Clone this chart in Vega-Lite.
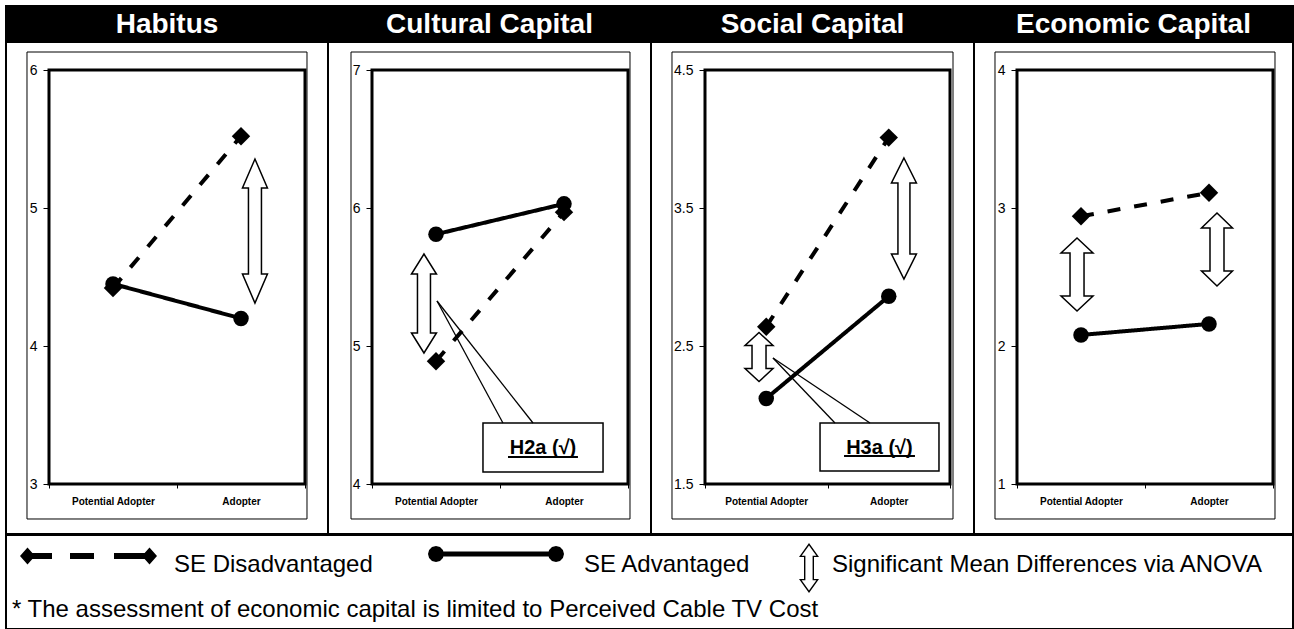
{
  "$schema": "https://vega.github.io/schema/vega-lite/v6.json",
  "padding": {"left": 5, "top": 5, "right": 0, "bottom": 0},
  "background": "white",
  "spacing": -2,
  "resolve": {"scale": {"x": "independent", "y": "independent", "shape": "independent", "strokeDash": "independent", "size": "independent"}, "legend": {"shape": "independent", "strokeDash": "independent", "size": "independent"}},
  "config": {
    "view": {"stroke": "black", "strokeWidth": 2},
    "axis": {"labelFont": "Liberation Sans", "labelColor": "black", "tickColor": "black", "domain": false, "grid": false},
    "text": {"font": "Liberation Sans"},
    "legend": {"labelFont": "Liberation Sans"}
  },
  "datasets": {
    "means": [
      {"panel": "Habitus", "stage": "Potential Adopter", "x": 0.5, "group": "SE Disadvantaged", "mean": 4.42},
      {"panel": "Habitus", "stage": "Adopter", "x": 1.5, "group": "SE Disadvantaged", "mean": 5.52},
      {"panel": "Habitus", "stage": "Potential Adopter", "x": 0.5, "group": "SE Advantaged", "mean": 4.45},
      {"panel": "Habitus", "stage": "Adopter", "x": 1.5, "group": "SE Advantaged", "mean": 4.2},
      {"panel": "Cultural Capital", "stage": "Potential Adopter", "x": 0.5, "group": "SE Disadvantaged", "mean": 4.89},
      {"panel": "Cultural Capital", "stage": "Adopter", "x": 1.5, "group": "SE Disadvantaged", "mean": 5.97},
      {"panel": "Cultural Capital", "stage": "Potential Adopter", "x": 0.5, "group": "SE Advantaged", "mean": 5.81},
      {"panel": "Cultural Capital", "stage": "Adopter", "x": 1.5, "group": "SE Advantaged", "mean": 6.03},
      {"panel": "Social Capital", "stage": "Potential Adopter", "x": 0.5, "group": "SE Disadvantaged", "mean": 2.64},
      {"panel": "Social Capital", "stage": "Adopter", "x": 1.5, "group": "SE Disadvantaged", "mean": 4.01},
      {"panel": "Social Capital", "stage": "Potential Adopter", "x": 0.5, "group": "SE Advantaged", "mean": 2.12},
      {"panel": "Social Capital", "stage": "Adopter", "x": 1.5, "group": "SE Advantaged", "mean": 2.86},
      {"panel": "Economic Capital", "stage": "Potential Adopter", "x": 0.5, "group": "SE Disadvantaged", "mean": 2.94},
      {"panel": "Economic Capital", "stage": "Adopter", "x": 1.5, "group": "SE Disadvantaged", "mean": 3.11},
      {"panel": "Economic Capital", "stage": "Potential Adopter", "x": 0.5, "group": "SE Advantaged", "mean": 2.08},
      {"panel": "Economic Capital", "stage": "Adopter", "x": 1.5, "group": "SE Advantaged", "mean": 2.16}
    ],
    "anova": [
      {"panel": "Habitus", "arrow": "Habitus-A", "x": 1.609, "y": 4.833},
      {"panel": "Cultural Capital", "arrow": "Cultural-PA", "x": 0.406, "y": 5.308},
      {"panel": "Social Capital", "arrow": "Social-PA", "x": 0.441, "y": 2.42},
      {"panel": "Social Capital", "arrow": "Social-A", "x": 1.624, "y": 3.424},
      {"panel": "Economic Capital", "arrow": "Economic-PA", "x": 0.469, "y": 2.518},
      {"panel": "Economic Capital", "arrow": "Economic-A", "x": 1.5625, "y": 2.699}
    ],
    "callouts": [
      {"panel": "Cultural Capital", "label": "H2a (√)", "bx1": 0.867, "bx2": 1.805, "by1": 4.087, "by2": 4.442, "tx": 0.508, "ty": 5.326, "ax1": 1.023, "ax2": 1.258, "ay": 4.442, "lx": 1.336, "ly": 4.261, "ux1": 1.0625, "ux2": 1.609, "uy": 4.196},
      {"panel": "Social Capital", "label": "H3a (√)", "bx1": 0.939, "bx2": 1.91, "by1": 1.594, "by2": 1.942, "tx": 0.555, "ty": 2.413, "ax1": 1.061, "ax2": 1.347, "ay": 1.942, "lx": 1.424, "ly": 1.761, "ux1": 1.135, "ux2": 1.714, "uy": 1.703}
    ],
    "legendSeries": [{"series": "SE Disadvantaged"}, {"series": "SE Advantaged"}],
    "legendSig": [{"sig": "Significant Mean Differences via ANOVA"}]
  },
  "vconcat": [
    {
      "hconcat": [
        {"width": 322, "height": 35, "view": {"fill": "black", "stroke": "black", "strokeWidth": 2}, "data": {"values": [{"title": "Habitus"}]}, "mark": {"type": "text", "color": "white", "fontSize": 28, "fontWeight": "bold", "font": "Liberation Sans", "align": "center", "baseline": "middle", "dy": 1}, "encoding": {"text": {"field": "title", "type": "nominal"}}},
        {"width": 323, "height": 35, "view": {"fill": "black", "stroke": "black", "strokeWidth": 2}, "data": {"values": [{"title": "Cultural Capital"}]}, "mark": {"type": "text", "color": "white", "fontSize": 28, "fontWeight": "bold", "font": "Liberation Sans", "align": "center", "baseline": "middle", "dy": 1}, "encoding": {"text": {"field": "title", "type": "nominal"}}},
        {"width": 323, "height": 35, "view": {"fill": "black", "stroke": "black", "strokeWidth": 2}, "data": {"values": [{"title": "Social Capital"}]}, "mark": {"type": "text", "color": "white", "fontSize": 28, "fontWeight": "bold", "font": "Liberation Sans", "align": "center", "baseline": "middle", "dy": 1}, "encoding": {"text": {"field": "title", "type": "nominal"}}},
        {"width": 319, "height": 35, "view": {"fill": "black", "stroke": "black", "strokeWidth": 2}, "data": {"values": [{"title": "Economic Capital"}]}, "mark": {"type": "text", "color": "white", "fontSize": 28, "fontWeight": "bold", "font": "Liberation Sans", "align": "center", "baseline": "middle", "dy": 1}, "encoding": {"text": {"field": "title", "type": "nominal"}}}
      ],
      "spacing": 0,
      "bounds": "flush"
    },
    {
      "hconcat": [
        {
          "width": 322, "height": 492,
          "view": {"fill": "white", "stroke": "black", "strokeWidth": 2},
          "resolve": {"scale": {"shape": "independent"}},
          "layer": [
            {"data": {"values": [{}]}, "mark": {"type": "rect", "filled": false, "stroke": "black", "strokeWidth": 1},
             "encoding": {
               "x": {"datum": -0.1719, "type": "quantitative", "scale": {"domain": [-0.3359, 2.1797], "nice": false, "zero": false},
                     "axis": {"values": [0, 0.5, 1, 1.5, 2], "labelExpr": "datum.value == 0.5 ? 'Potential Adopter' : datum.value == 1.5 ? 'Adopter' : ''", "offset": -50, "tickSize": 4, "tickOpacity": {"condition": {"test": "datum.value == 0.5 || datum.value == 1.5", "value": 0}, "value": 1}, "labelPadding": 8, "labelFontSize": 10, "labelFontWeight": "bold", "labelOverlap": false, "labelFlush": false, "title": null}},
               "x2": {"datum": 2.0156},
               "y": {"datum": 2.7464, "type": "quantitative", "scale": {"domain": [2.6377, 6.2029], "nice": false, "zero": false},
                     "axis": {"values": [3, 4, 5, 6], "format": "~g", "offset": -43, "tickSize": 6, "labelPadding": 6, "labelFontSize": 14, "title": null}},
               "y2": {"datum": 6.1304}
             }},
            {"data": {"values": [{}]}, "mark": {"type": "rect", "filled": false, "stroke": "black", "strokeWidth": 3},
             "encoding": {"x": {"datum": 0, "type": "quantitative"}, "x2": {"datum": 2}, "y": {"datum": 3, "type": "quantitative"}, "y2": {"datum": 6}}},
            {"data": {"name": "means"}, "transform": [{"filter": "datum.panel == 'Habitus'"}],
             "mark": {"type": "line", "color": "black", "strokeWidth": 4},
             "encoding": {"x": {"field": "x", "type": "quantitative"}, "y": {"field": "mean", "type": "quantitative"},
               "strokeDash": {"field": "group", "type": "nominal", "scale": {"domain": ["SE Disadvantaged", "SE Advantaged"], "range": [[13, 14], [1, 0]]}, "legend": null}}},
            {"data": {"name": "means"}, "transform": [{"filter": "datum.panel == 'Habitus'"}],
             "mark": {"type": "point", "filled": true, "color": "black", "opacity": 1},
             "encoding": {"x": {"field": "x", "type": "quantitative"}, "y": {"field": "mean", "type": "quantitative"},
               "shape": {"field": "group", "type": "nominal", "scale": {"domain": ["SE Disadvantaged", "SE Advantaged"], "range": ["diamond", "circle"]}, "legend": null},
               "size": {"field": "group", "type": "nominal", "scale": {"domain": ["SE Disadvantaged", "SE Advantaged"], "range": [340, 240]}, "legend": null}}},
            {"data": {"name": "anova"}, "transform": [{"filter": "datum.panel == 'Habitus'"}],
             "mark": {"type": "point", "filled": true, "fill": "white", "stroke": "black", "strokeWidth": 1.5, "size": 400, "opacity": 1},
             "encoding": {"x": {"field": "x", "type": "quantitative"}, "y": {"field": "y", "type": "quantitative"},
               "shape": {"field": "arrow", "type": "nominal", "scale": {"domain": ["Habitus-A"], "range": ["M0,-7.2L1.25,-4.3L0.65,-4.3L0.65,4.3L1.25,4.3L0,7.2L-1.25,4.3L-0.65,4.3L-0.65,-4.3L-1.25,-4.3Z"]}, "legend": null}}}
          ]
        },
        {
          "width": 323, "height": 492,
          "view": {"fill": "white", "stroke": "black", "strokeWidth": 2},
          "resolve": {"scale": {"shape": "independent"}},
          "layer": [
            {"data": {"values": [{}]}, "mark": {"type": "rect", "filled": false, "stroke": "black", "strokeWidth": 1},
             "encoding": {
               "x": {"datum": -0.164, "type": "quantitative", "scale": {"domain": [-0.34375, 2.1797], "nice": false, "zero": false},
                     "axis": {"values": [0, 0.5, 1, 1.5, 2], "labelExpr": "datum.value == 0.5 ? 'Potential Adopter' : datum.value == 1.5 ? 'Adopter' : ''", "offset": -50, "tickSize": 4, "tickOpacity": {"condition": {"test": "datum.value == 0.5 || datum.value == 1.5", "value": 0}, "value": 1}, "labelPadding": 8, "labelFontSize": 10, "labelFontWeight": "bold", "labelOverlap": false, "labelFlush": false, "title": null}},
               "x2": {"datum": 2.0156},
               "y": {"datum": 3.7464, "type": "quantitative", "scale": {"domain": [3.6377, 7.2029], "nice": false, "zero": false},
                     "axis": {"values": [4, 5, 6, 7], "format": "~g", "offset": -44, "tickSize": 6, "labelPadding": 6, "labelFontSize": 14, "title": null}},
               "y2": {"datum": 7.1304}
             }},
            {"data": {"values": [{}]}, "mark": {"type": "rect", "filled": false, "stroke": "black", "strokeWidth": 3},
             "encoding": {"x": {"datum": 0, "type": "quantitative"}, "x2": {"datum": 2}, "y": {"datum": 4, "type": "quantitative"}, "y2": {"datum": 7}}},
            {"data": {"name": "means"}, "transform": [{"filter": "datum.panel == 'Cultural Capital'"}],
             "mark": {"type": "line", "color": "black", "strokeWidth": 4},
             "encoding": {"x": {"field": "x", "type": "quantitative"}, "y": {"field": "mean", "type": "quantitative"},
               "strokeDash": {"field": "group", "type": "nominal", "scale": {"domain": ["SE Disadvantaged", "SE Advantaged"], "range": [[13, 14], [1, 0]]}, "legend": null}}},
            {"data": {"name": "means"}, "transform": [{"filter": "datum.panel == 'Cultural Capital'"}],
             "mark": {"type": "point", "filled": true, "color": "black", "opacity": 1},
             "encoding": {"x": {"field": "x", "type": "quantitative"}, "y": {"field": "mean", "type": "quantitative"},
               "shape": {"field": "group", "type": "nominal", "scale": {"domain": ["SE Disadvantaged", "SE Advantaged"], "range": ["diamond", "circle"]}, "legend": null},
               "size": {"field": "group", "type": "nominal", "scale": {"domain": ["SE Disadvantaged", "SE Advantaged"], "range": [340, 240]}, "legend": null}}},
            {"data": {"name": "callouts"}, "transform": [{"filter": "datum.panel == 'Cultural Capital'"}],
             "mark": {"type": "rect", "fill": "white", "stroke": "black", "strokeWidth": 1.5},
             "encoding": {"x": {"field": "bx1", "type": "quantitative"}, "x2": {"field": "bx2"}, "y": {"field": "by1", "type": "quantitative"}, "y2": {"field": "by2"}}},
            {"data": {"name": "callouts"}, "transform": [{"filter": "datum.panel == 'Cultural Capital'"}],
             "mark": {"type": "rule", "color": "black", "strokeWidth": 1.3},
             "encoding": {"x": {"field": "tx", "type": "quantitative"}, "y": {"field": "ty", "type": "quantitative"}, "x2": {"field": "ax1"}, "y2": {"field": "ay"}}},
            {"data": {"name": "callouts"}, "transform": [{"filter": "datum.panel == 'Cultural Capital'"}],
             "mark": {"type": "rule", "color": "black", "strokeWidth": 1.3},
             "encoding": {"x": {"field": "tx", "type": "quantitative"}, "y": {"field": "ty", "type": "quantitative"}, "x2": {"field": "ax2"}, "y2": {"field": "ay"}}},
            {"data": {"name": "callouts"}, "transform": [{"filter": "datum.panel == 'Cultural Capital'"}],
             "mark": {"type": "text", "color": "black", "fontSize": 20, "fontWeight": "bold", "font": "Liberation Sans", "align": "center", "baseline": "middle"},
             "encoding": {"x": {"field": "lx", "type": "quantitative"}, "y": {"field": "ly", "type": "quantitative"}, "text": {"field": "label", "type": "nominal"}}},
            {"data": {"name": "callouts"}, "transform": [{"filter": "datum.panel == 'Cultural Capital'"}],
             "mark": {"type": "rule", "color": "black", "strokeWidth": 2},
             "encoding": {"x": {"field": "ux1", "type": "quantitative"}, "x2": {"field": "ux2"}, "y": {"field": "uy", "type": "quantitative"}}},
            {"data": {"name": "anova"}, "transform": [{"filter": "datum.panel == 'Cultural Capital'"}],
             "mark": {"type": "point", "filled": true, "fill": "white", "stroke": "black", "strokeWidth": 1.5, "size": 400, "opacity": 1},
             "encoding": {"x": {"field": "x", "type": "quantitative"}, "y": {"field": "y", "type": "quantitative"},
               "shape": {"field": "arrow", "type": "nominal", "scale": {"domain": ["Cultural-PA"], "range": ["M0,-4.95L1.25,-2.95L0.65,-2.95L0.65,2.95L1.25,2.95L0,4.95L-1.25,2.95L-0.65,2.95L-0.65,-2.95L-1.25,-2.95Z"]}, "legend": null}}}
          ]
        },
        {
          "width": 323, "height": 492,
          "view": {"fill": "white", "stroke": "black", "strokeWidth": 2},
          "resolve": {"scale": {"shape": "independent"}},
          "layer": [
            {"data": {"values": [{}]}, "mark": {"type": "rect", "filled": false, "stroke": "black", "strokeWidth": 1},
             "encoding": {
               "x": {"datum": -0.2694, "type": "quantitative", "scale": {"domain": [-0.4408, 2.1959], "nice": false, "zero": false},
                     "axis": {"values": [0, 0.5, 1, 1.5, 2], "labelExpr": "datum.value == 0.5 ? 'Potential Adopter' : datum.value == 1.5 ? 'Adopter' : ''", "offset": -50, "tickSize": 4, "tickOpacity": {"condition": {"test": "datum.value == 0.5 || datum.value == 1.5", "value": 0}, "value": 1}, "labelPadding": 8, "labelFontSize": 10, "labelFontWeight": "bold", "labelOverlap": false, "labelFlush": false, "title": null}},
               "x2": {"datum": 2.0245},
               "y": {"datum": 1.2464, "type": "quantitative", "scale": {"domain": [1.1377, 4.7029], "nice": false, "zero": false},
                     "axis": {"values": [1.5, 2.5, 3.5, 4.5], "format": "~g", "offset": -54, "tickSize": 6, "labelPadding": 6, "labelFontSize": 14, "title": null}},
               "y2": {"datum": 4.6304}
             }},
            {"data": {"values": [{}]}, "mark": {"type": "rect", "filled": false, "stroke": "black", "strokeWidth": 3},
             "encoding": {"x": {"datum": 0, "type": "quantitative"}, "x2": {"datum": 2}, "y": {"datum": 1.5, "type": "quantitative"}, "y2": {"datum": 4.5}}},
            {"data": {"name": "callouts"}, "transform": [{"filter": "datum.panel == 'Social Capital'"}],
             "mark": {"type": "rect", "fill": "white", "stroke": "black", "strokeWidth": 1.5},
             "encoding": {"x": {"field": "bx1", "type": "quantitative"}, "x2": {"field": "bx2"}, "y": {"field": "by1", "type": "quantitative"}, "y2": {"field": "by2"}}},
            {"data": {"name": "callouts"}, "transform": [{"filter": "datum.panel == 'Social Capital'"}],
             "mark": {"type": "rule", "color": "black", "strokeWidth": 1.3},
             "encoding": {"x": {"field": "tx", "type": "quantitative"}, "y": {"field": "ty", "type": "quantitative"}, "x2": {"field": "ax1"}, "y2": {"field": "ay"}}},
            {"data": {"name": "callouts"}, "transform": [{"filter": "datum.panel == 'Social Capital'"}],
             "mark": {"type": "rule", "color": "black", "strokeWidth": 1.3},
             "encoding": {"x": {"field": "tx", "type": "quantitative"}, "y": {"field": "ty", "type": "quantitative"}, "x2": {"field": "ax2"}, "y2": {"field": "ay"}}},
            {"data": {"name": "callouts"}, "transform": [{"filter": "datum.panel == 'Social Capital'"}],
             "mark": {"type": "text", "color": "black", "fontSize": 20, "fontWeight": "bold", "font": "Liberation Sans", "align": "center", "baseline": "middle"},
             "encoding": {"x": {"field": "lx", "type": "quantitative"}, "y": {"field": "ly", "type": "quantitative"}, "text": {"field": "label", "type": "nominal"}}},
            {"data": {"name": "callouts"}, "transform": [{"filter": "datum.panel == 'Social Capital'"}],
             "mark": {"type": "rule", "color": "black", "strokeWidth": 2},
             "encoding": {"x": {"field": "ux1", "type": "quantitative"}, "x2": {"field": "ux2"}, "y": {"field": "uy", "type": "quantitative"}}},
            {"data": {"name": "means"}, "transform": [{"filter": "datum.panel == 'Social Capital'"}],
             "mark": {"type": "line", "color": "black", "strokeWidth": 4},
             "encoding": {"x": {"field": "x", "type": "quantitative"}, "y": {"field": "mean", "type": "quantitative"},
               "strokeDash": {"field": "group", "type": "nominal", "scale": {"domain": ["SE Disadvantaged", "SE Advantaged"], "range": [[13, 14], [1, 0]]}, "legend": null}}},
            {"data": {"name": "means"}, "transform": [{"filter": "datum.panel == 'Social Capital'"}],
             "mark": {"type": "point", "filled": true, "color": "black", "opacity": 1},
             "encoding": {"x": {"field": "x", "type": "quantitative"}, "y": {"field": "mean", "type": "quantitative"},
               "shape": {"field": "group", "type": "nominal", "scale": {"domain": ["SE Disadvantaged", "SE Advantaged"], "range": ["diamond", "circle"]}, "legend": null},
               "size": {"field": "group", "type": "nominal", "scale": {"domain": ["SE Disadvantaged", "SE Advantaged"], "range": [340, 240]}, "legend": null}}},
            {"data": {"name": "anova"}, "transform": [{"filter": "datum.panel == 'Social Capital'"}],
             "mark": {"type": "point", "filled": true, "fill": "white", "stroke": "black", "strokeWidth": 1.5, "size": 400, "opacity": 1},
             "encoding": {"x": {"field": "x", "type": "quantitative"}, "y": {"field": "y", "type": "quantitative"},
               "shape": {"field": "arrow", "type": "nominal", "scale": {"domain": ["Social-PA", "Social-A"], "range": ["M0,-2.45L1.4,-1.15L0.7,-1.15L0.7,1.15L1.4,1.15L0,2.45L-1.4,1.15L-0.7,1.15L-0.7,-1.15L-1.4,-1.15Z", "M0,-6.05L1.25,-3.55L0.6,-3.55L0.6,3.55L1.25,3.55L0,6.05L-1.25,3.55L-0.6,3.55L-0.6,-3.55L-1.25,-3.55Z"]}, "legend": null}}}
          ]
        },
        {
          "width": 319, "height": 492,
          "view": {"fill": "white", "stroke": "black", "strokeWidth": 2},
          "resolve": {"scale": {"shape": "independent"}},
          "layer": [
            {"data": {"values": [{}]}, "mark": {"type": "rect", "filled": false, "stroke": "black", "strokeWidth": 1},
             "encoding": {
               "x": {"datum": -0.1719, "type": "quantitative", "scale": {"domain": [-0.3359, 2.15625], "nice": false, "zero": false},
                     "axis": {"values": [0, 0.5, 1, 1.5, 2], "labelExpr": "datum.value == 0.5 ? 'Potential Adopter' : datum.value == 1.5 ? 'Adopter' : ''", "offset": -50, "tickSize": 4, "tickOpacity": {"condition": {"test": "datum.value == 0.5 || datum.value == 1.5", "value": 0}, "value": 1}, "labelPadding": 8, "labelFontSize": 10, "labelFontWeight": "bold", "labelOverlap": false, "labelFlush": false, "title": null}},
               "x2": {"datum": 2.0156},
               "y": {"datum": 0.7464, "type": "quantitative", "scale": {"domain": [0.6377, 4.2029], "nice": false, "zero": false},
                     "axis": {"values": [1, 2, 3, 4], "format": "~g", "offset": -43, "tickSize": 6, "labelPadding": 6, "labelFontSize": 14, "title": null}},
               "y2": {"datum": 4.1304}
             }},
            {"data": {"values": [{}]}, "mark": {"type": "rect", "filled": false, "stroke": "black", "strokeWidth": 3},
             "encoding": {"x": {"datum": 0, "type": "quantitative"}, "x2": {"datum": 2}, "y": {"datum": 1, "type": "quantitative"}, "y2": {"datum": 4}}},
            {"data": {"name": "means"}, "transform": [{"filter": "datum.panel == 'Economic Capital'"}],
             "mark": {"type": "line", "color": "black", "strokeWidth": 4},
             "encoding": {"x": {"field": "x", "type": "quantitative"}, "y": {"field": "mean", "type": "quantitative"},
               "strokeDash": {"field": "group", "type": "nominal", "scale": {"domain": ["SE Disadvantaged", "SE Advantaged"], "range": [[13, 14], [1, 0]]}, "legend": null}}},
            {"data": {"name": "means"}, "transform": [{"filter": "datum.panel == 'Economic Capital'"}],
             "mark": {"type": "point", "filled": true, "color": "black", "opacity": 1},
             "encoding": {"x": {"field": "x", "type": "quantitative"}, "y": {"field": "mean", "type": "quantitative"},
               "shape": {"field": "group", "type": "nominal", "scale": {"domain": ["SE Disadvantaged", "SE Advantaged"], "range": ["diamond", "circle"]}, "legend": null},
               "size": {"field": "group", "type": "nominal", "scale": {"domain": ["SE Disadvantaged", "SE Advantaged"], "range": [340, 240]}, "legend": null}}},
            {"data": {"name": "anova"}, "transform": [{"filter": "datum.panel == 'Economic Capital'"}],
             "mark": {"type": "point", "filled": true, "fill": "white", "stroke": "black", "strokeWidth": 1.5, "size": 400, "opacity": 1},
             "encoding": {"x": {"field": "x", "type": "quantitative"}, "y": {"field": "y", "type": "quantitative"},
               "shape": {"field": "arrow", "type": "nominal", "scale": {"domain": ["Economic-PA", "Economic-A"], "range": ["M0,-3.65L1.6,-2.15L0.7,-2.15L0.7,2.15L1.6,2.15L0,3.65L-1.6,2.15L-0.7,2.15L-0.7,-2.15L-1.6,-2.15Z", "M0,-3.65L1.55,-2.15L0.7,-2.15L0.7,2.15L1.55,2.15L0,3.65L-1.55,2.15L-0.7,2.15L-0.7,-2.15L-1.55,-2.15Z"]}, "legend": null}}}
          ]
        }
      ],
      "spacing": 0,
      "bounds": "flush",
      "resolve": {"scale": {"x": "independent", "y": "independent", "shape": "independent", "strokeDash": "independent", "size": "independent"}, "legend": {"shape": "independent", "strokeDash": "independent", "size": "independent"}}
    },
    {
      "width": 1287, "height": 94,
      "view": {"fill": "white", "stroke": "black", "strokeWidth": 2},
      "title": {"text": "* The assessment of economic capital is limited to Perceived Cable TV Cost", "orient": "bottom", "anchor": "start", "frame": "group", "offset": -31, "baseline": "top", "fontSize": 24, "fontWeight": "normal", "font": "Liberation Sans", "color": "black", "dx": 6},
      "resolve": {"scale": {"shape": "independent"}, "legend": {"shape": "independent"}},
      "layer": [
        {"data": {"name": "legendSeries"},
         "mark": {"type": "point", "filled": true, "color": "black", "opacity": 0, "strokeWidth": 0},
         "encoding": {"shape": {"field": "series", "type": "nominal",
           "scale": {"domain": ["SE Disadvantaged", "SE Advantaged"], "range": [
             "M0,-0.9L0.75,-1.75L1.5,-0.9L0.75,-0.05ZM1.2,-1.2L3.2,-1.2L3.2,-0.6L1.2,-0.6ZM5,-1.2L7.4,-1.2L7.4,-0.6L5,-0.6ZM9.4,-1.2L12.5,-1.2L12.5,-0.6L9.4,-0.6ZM12.2,-0.9L12.95,-1.75L13.7,-0.9L12.95,-0.05Z",
             "M1.4,-1.1L1.293,-0.7L1,-0.407L0.6,-0.3L0.2,-0.407L-0.093,-0.7L-0.2,-1.1L-0.093,-1.5L0.2,-1.793L0.6,-1.9L1,-1.793L1.293,-1.5ZM0.6,-1.35L12.6,-1.35L12.6,-0.85L0.6,-0.85ZM13.4,-1.1L13.293,-0.7L13,-0.407L12.6,-0.3L12.2,-0.407L11.907,-0.7L11.8,-1.1L11.907,-1.5L12.2,-1.793L12.6,-1.9L13,-1.793L13.293,-1.5Z"]},
           "legend": {"orient": "none", "legendX": 2, "legendY": 18, "direction": "horizontal", "title": null, "padding": 0, "symbolSize": 400, "symbolOpacity": 1, "symbolFillColor": "black", "symbolStrokeWidth": 0, "labelFontSize": 24, "labelColor": "black", "labelLimit": 600, "labelOffset": 142, "columnPadding": 45}}}},
        {"data": {"name": "legendSig"},
         "mark": {"type": "point", "filled": true, "color": "black", "opacity": 0, "strokeWidth": 0},
         "encoding": {"shape": {"field": "sig", "type": "nominal",
           "scale": {"domain": ["Significant Mean Differences via ANOVA"], "range": ["M0,-2.2L1,-0.8L0.5,-0.8L0.5,1.4L1,1.4L0,2.8L-1,1.4L-0.5,1.4L-0.5,-0.8L-1,-0.8ZM0,-1.95L-0.74,-0.92L-0.36,-0.92L-0.36,1.52L-0.74,1.52L0,2.55L0.74,1.52L0.36,1.52L0.36,-0.92L0.74,-0.92Z"]},
           "legend": {"orient": "none", "legendX": 791, "legendY": 18, "direction": "horizontal", "title": null, "padding": 0, "symbolSize": 400, "symbolOpacity": 1, "symbolFillColor": "black", "symbolStrokeWidth": 0, "labelFontSize": 24, "labelColor": "black", "labelLimit": 600, "labelOffset": 11}}}}
      ]
    }
  ]
}
